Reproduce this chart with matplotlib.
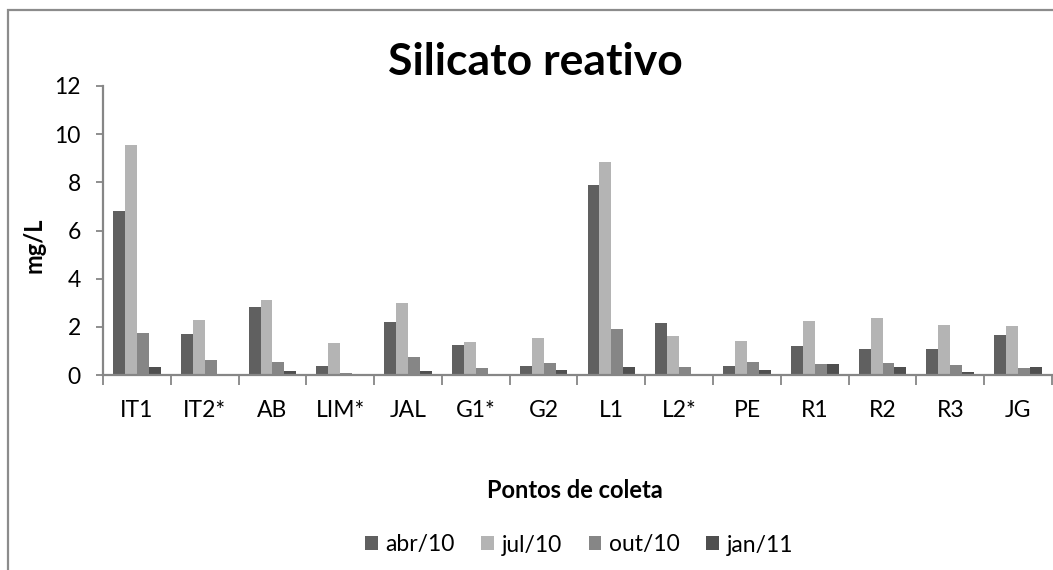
import matplotlib
matplotlib.use("Agg")
import matplotlib.pyplot as plt
import numpy as np
from matplotlib.patches import Rectangle

plt.rcParams['font.family'] = ['Lato', 'DejaVu Sans']

pontos = ["IT1", "IT2*", "AB", "LIM*", "JAL", "G1*", "G2", "L1", "L2*", "PE", "R1", "R2", "R3", "JG"]
abr10 = [6.83, 1.71, 2.83, 0.37, 2.22, 1.23, 0.37, 7.91, 2.14, 0.39, 1.22, 1.08, 1.10, 1.67]
jul10 = [9.56, 2.29, 3.12, 1.33, 3.00, 1.37, 1.55, 8.84, 1.60, 1.42, 2.25, 2.38, 2.09, 2.02]
out10 = [1.74, 0.63, 0.54, 0.10, 0.73, 0.30, 0.51, 1.89, 0.33, 0.55, 0.44, 0.51, 0.40, 0.29]
jan11 = [0.33, 0.0, 0.18, 0.0, 0.18, 0.0, 0.19, 0.33, 0.0, 0.19, 0.44, 0.33, 0.12, 0.32]

series = [("abr/10", abr10, "#606060"),
          ("jul/10", jul10, "#b4b4b4"),
          ("out/10", out10, "#868686"),
          ("jan/11", jan11, "#4f4f4f")]

fig = plt.figure(figsize=(10.53, 5.70), dpi=100)
ax = fig.add_axes([103 / 1053, 1 - 375 / 570, (1052 - 103) / 1053, (375 - 86) / 570])

# chart frame (only top and left edges fall inside the image)
fig.patches.append(Rectangle((8 / 1053, -0.5), 2.0, 1.5 - 10 / 570, transform=fig.transFigure,
                             fill=False, edgecolor="#8c8c8c", linewidth=1.6))

x = np.arange(len(pontos))
w = 0.176
for i, (nome, vals, cor) in enumerate(series):
    ax.bar(x + (i - 1.5) * w, vals, w, color=cor, label=nome, edgecolor="none")

ax.set_xlim(-0.5, len(pontos) - 0.5)
ax.set_ylim(0, 12)
ax.set_yticks(range(0, 13, 2))
ax.set_xticks(x)
ax.set_xticklabels(pontos)
ax.set_xticks(np.arange(-0.5, len(pontos), 1), minor=True)
ax.tick_params(axis='x', which='major', length=0, pad=18, labelsize=16.5)
ax.tick_params(axis='x', which='minor', length=7, direction='out', color="#868686", width=1.3)
ax.tick_params(axis='y', length=5, direction='out', color="#868686", width=1.3, pad=11, labelsize=16.5)

for s in ("top", "right"):
    ax.spines[s].set_visible(False)
for s in ("left", "bottom"):
    ax.spines[s].set_color("#868686")
    ax.spines[s].set_linewidth(1.6)

fig.text(0.508, 1 - 62 / 570, "Silicato reativo", ha='center', va='center', fontsize=32, fontweight='bold')
fig.text(0.032, 1 - 245 / 570, "mg/L", rotation=90, ha='center', va='center', fontsize=17, fontweight='bold')
fig.text(0.546, 1 - 491 / 570, "Pontos de coleta", ha='center', va='center', fontsize=17, fontweight='bold')

fig.legend(loc='center', bbox_to_anchor=(0.55, 1 - 545 / 570), ncol=4, frameon=False,
           fontsize=16.5, handlelength=0.55, handleheight=0.55, handletextpad=0.35, columnspacing=1.15)

fig.savefig("out.png", dpi=100)
